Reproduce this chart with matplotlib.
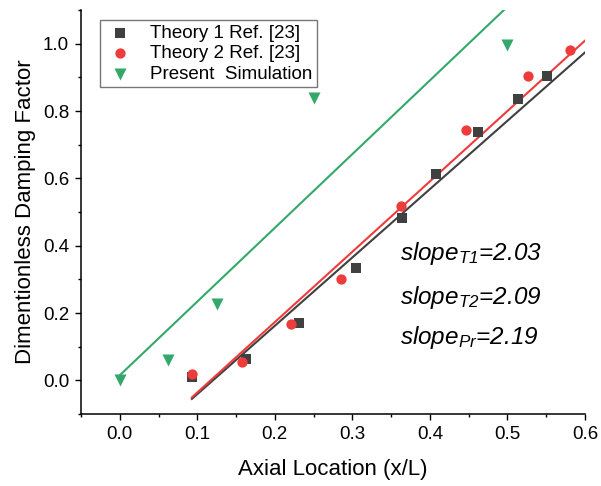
import numpy as np
import matplotlib
matplotlib.use("Agg")
import matplotlib.pyplot as plt
from matplotlib.ticker import MultipleLocator, FormatStrFormatter

plt.rcParams['font.family'] = ['Liberation Sans', 'DejaVu Sans']
plt.rcParams['mathtext.fontset'] = 'custom'
plt.rcParams['mathtext.rm'] = 'Liberation Sans:italic'
plt.rcParams['mathtext.it'] = 'Liberation Sans:italic'

# Data
t1_x = [0.093, 0.163, 0.231, 0.305, 0.364, 0.408, 0.462, 0.513, 0.551]
t1_y = [0.010, 0.064, 0.171, 0.334, 0.483, 0.613, 0.738, 0.836, 0.904]
t2_x = [0.093, 0.157, 0.221, 0.285, 0.363, 0.447, 0.527, 0.581]
t2_y = [0.018, 0.054, 0.166, 0.300, 0.518, 0.744, 0.905, 0.980]
pr_x = [0.0, 0.062, 0.125, 0.250, 0.500]
pr_y = [0.0, 0.059, 0.228, 0.840, 0.996]

fit_slopes = [2.03, 2.09, 2.19]
fit_intercepts = [-0.244, -0.245, 0.015]
fit_xstart = [0.093, 0.093, 0.0]
fit_xend = [0.601, 0.601, 0.6]
slope_labels = ["slope$_{T1}$=2.03", "slope$_{T2}$=2.09", "slope$_{Pr}$=2.19"]

c_t1 = '#404040'
c_t2 = '#EE3B3B'
c_pr = '#34A86A'
colors = [c_t1, c_t2, c_pr]

fig = plt.figure(figsize=(6.01, 4.86), dpi=100)
ax = fig.add_axes([81/601, 1-414/486, (585-81)/601, (414-10)/486])

for s, b, x0, x1, c in zip(fit_slopes, fit_intercepts, fit_xstart, fit_xend, colors):
    xs = np.array([x0, x1])
    ax.plot(xs, s*xs + b, color=c, lw=1.5, zorder=2)

ax.scatter(t1_x, t1_y, marker='s', s=42, color=c_t1, label='Theory 1 Ref. [23]', zorder=3, linewidths=0)
ax.scatter(t2_x, t2_y, marker='o', s=55, color=c_t2, label='Theory 2 Ref. [23]', zorder=3, linewidths=0)
ax.scatter(pr_x, pr_y, marker='v', s=75, color=c_pr, label='Present  Simulation', zorder=3, linewidths=0)

ax.set_xlim(-0.05, 0.6)
ax.set_ylim(-0.1, 1.1)
ax.xaxis.set_major_locator(MultipleLocator(0.1))
ax.xaxis.set_minor_locator(MultipleLocator(0.05))
ax.yaxis.set_major_locator(MultipleLocator(0.2))
ax.yaxis.set_minor_locator(MultipleLocator(0.1))
ax.xaxis.set_major_formatter(FormatStrFormatter('%.1f'))
ax.yaxis.set_major_formatter(FormatStrFormatter('%.1f'))

for sp in ['top', 'right']:
    ax.spines[sp].set_visible(False)
for sp in ['left', 'bottom']:
    ax.spines[sp].set_linewidth(1.1)
    ax.spines[sp].set_color('black')

ax.tick_params(which='major', direction='out', length=4.5, width=1.0, labelsize=13.5, colors='black', pad=4)
ax.tick_params(which='minor', direction='out', length=2.5, width=1.0)

ax.set_xlabel('Axial Location (x/L)', fontsize=16, labelpad=12)
ax.set_ylabel('Dimentionless Damping Factor', fontsize=16, labelpad=5)

leg = ax.legend(loc='upper left', bbox_to_anchor=(0.03, 0.985), fontsize=13.5, frameon=True,
                fancybox=False, edgecolor='#555555', handletextpad=0.7, labelspacing=0.18,
                borderpad=0.25, handlelength=1.7, borderaxespad=0.2)
leg.get_frame().set_linewidth(1.0)

ys = [0.377, 0.246, 0.128]
for lab, yv in zip(slope_labels, ys):
    ax.text(0.362, yv, lab, fontsize=17.5, fontstyle='italic', ha='left', va='center')

fig.savefig('out.png', dpi=100)
